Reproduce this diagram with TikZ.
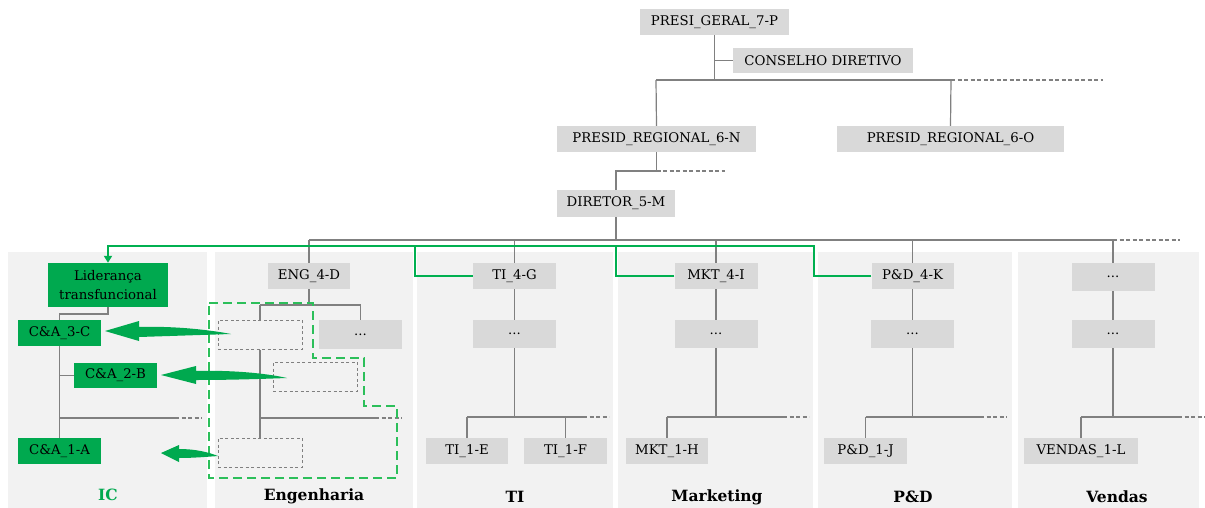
\documentclass[tikz,border=0pt]{standalone}
\usepackage{fontspec}
\setmainfont{DejaVu Serif}
\usetikzlibrary{arrows.meta,calc}
\definecolor{boxgray}{HTML}{D9D9D9}
\definecolor{panelgray}{HTML}{F2F2F2}
\definecolor{linegray}{HTML}{808080}
\definecolor{icgreen}{HTML}{00A94F}
\definecolor{linkgreen}{HTML}{00B050}
\definecolor{zonegreen}{HTML}{2CBF5A}
\begin{document}
\begin{tikzpicture}[x=1pt,y=-1pt,
  unit/.style={fill=boxgray, minimum width=83pt, minimum height=27pt,
    inner sep=0pt, font=\fontsize{13.3}{16}\selectfont},
  icunit/.style={unit, fill=icgreen},
  ghost/.style={draw=linegray, dash pattern=on 3pt off 2.5pt, line width=1pt,
    minimum width=84pt, minimum height=29pt, inner sep=0pt},
  panel/.style={fill=panelgray},
  wire/.style={draw=linegray, line width=1.2pt},
  more/.style={draw=linegray, line width=1.2pt, dash pattern=on 4pt off 2.5pt},
  link/.style={draw=linkgreen, line width=2pt},
  zone/.style={draw=zonegreen, line width=2.4pt, dash pattern=on 9pt off 5pt},
  fatarrow/.style={fill=icgreen},
  area/.style={font=\bfseries\fontsize{15.5}{18}\selectfont}
]
\useasboundingbox (0,0) rectangle (1205,508);

% department panels
\fill[panel] (8,252) rectangle (207,508);
\fill[panel] (215,252) rectangle (413,508);
\fill[panel] (417,252) rectangle (613,508);
\fill[panel] (618,252) rectangle (813,508);
\fill[panel] (818,252) rectangle (1012,508);
\fill[panel] (1018,252) rectangle (1199,508);

% top levels
\node[unit, minimum width=149pt, minimum height=26pt] (presi) at (714.5,22) {PRESI\_GERAL\_7-P};
\node[unit, minimum width=180pt, minimum height=25pt] (cons) at (823,60.5) {CONSELHO DIRETIVO};
\node[unit, minimum width=199pt, minimum height=26pt] (reg6n) at (656.5,139) {PRESID\_REGIONAL\_6-N};
\node[unit, minimum width=227pt, minimum height=26pt] (reg6o) at (950.5,139) {PRESID\_REGIONAL\_6-O};
\node[unit, minimum width=118pt] (dir) at (616,203.5) {DIRETOR\_5-M};

% IC
\node[icunit, minimum width=120pt, minimum height=44pt, align=center,
  font=\fontsize{13.3}{19}\selectfont] (lid) at (108,285) {Liderança\\transfuncional};
\node[icunit, minimum height=26pt] (ca3) at (59.5,333) {C\&A\_3-C};
\node[icunit, minimum height=25pt] (ca2) at (115.5,375.5) {C\&A\_2-B};
\node[icunit, minimum height=26pt] (ca1) at (59.5,451) {C\&A\_1-A};

% Engenharia
\node[unit, minimum width=82pt, minimum height=26pt] (eng) at (309,276) {ENG\_4-D};
\node[ghost] (gA) at (260,334.5) {};
\node[ghost] (gB) at (315,376.5) {};
\node[ghost] (gC) at (260,452.5) {};
\node[unit, minimum height=29pt] (engdots) at (360.5,334.5) {...};

% TI
\node[unit, minimum height=26pt] (ti4) at (514.5,276) {TI\_4-G};
\node[unit, minimum height=28pt] (tidots) at (514.5,334) {...};
\node[unit, minimum width=82pt, minimum height=26pt] (ti1e) at (467,451) {TI\_1-E};
\node[unit, minimum height=26pt] (ti1f) at (565.5,451) {TI\_1-F};

% Marketing
\node[unit, minimum height=26pt] (mkt4) at (716,276) {MKT\_4-I};
\node[unit, minimum height=28pt] (mktdots) at (716,334) {...};
\node[unit, minimum width=82pt, minimum height=26pt] (mkt1h) at (667,451) {MKT\_1-H};

% P&D
\node[unit, minimum width=82pt, minimum height=26pt] (pd4) at (912.5,276) {P\&D\_4-K};
\node[unit, minimum height=28pt] (pddots) at (912.5,334) {...};
\node[unit, minimum height=26pt] (pd1j) at (865.5,451) {P\&D\_1-J};

% Vendas
\node[unit, minimum height=28pt] (vdots1) at (1113,277) {...};
\node[unit, minimum height=28pt] (vdots2) at (1113,334) {...};
\node[unit, minimum width=114pt, minimum height=26pt] (vend1l) at (1081,451) {VENDAS\_1-L};

% reporting lines, top
\coordinate (bus1) at (656,80);
\coordinate (bus1r) at (951,80);
\draw[wire] (presi.south) -- (presi.south |- bus1);
\draw[wire] (presi.south |- cons.west) -- (cons.west);
\draw[wire] (bus1) -- (bus1r);
\draw[more] (bus1r) -- (1103,80);
\draw[wire] (bus1) -- (reg6n.north);
\draw[wire] (bus1r) -- (reg6o.north);
\coordinate (fork6) at (616,171);
\draw[wire] (reg6n.south) -- (reg6n.south |- fork6) -- (fork6) -- (dir.north);
\draw[more] (reg6n.south |- fork6) -- (725,171);

% director bus
\coordinate (bus2) at (309,240);
\coordinate (bus2r) at (1113,240);
\draw[wire] (dir.south) -- (dir.south |- bus2);
\draw[wire] (bus2) -- (bus2r);
\draw[more] (bus2r) -- (1180,240);
\draw[wire] (eng.north |- bus2) -- (eng.north);
\draw[wire] (ti4.north |- bus2) -- (ti4.north);
\draw[wire] (mkt4.north |- bus2) -- (mkt4.north);
\draw[wire] (pd4.north |- bus2) -- (pd4.north);
\draw[wire] (vdots1.north |- bus2) -- (vdots1.north);

% IC lines
\coordinate (icfork) at (59.5,314);
\draw[wire] (lid.south) -- (lid.south |- icfork) -- (icfork) -- (ca3.north);
\draw[wire] (ca3.south) -- (ca1.north);
\draw[wire] (ca3.south |- ca2.west) -- (ca2.west);
\draw[wire] (59.5,418) -- (175,418);
\draw[more] (175,418) -- (202,418);

% Engenharia lines
\coordinate (engfork) at (309,305);
\draw[wire] (eng.south) -- (engfork);
\draw[wire] (gA.north |- engfork) -- (engdots.north |- engfork);
\draw[wire] (gA.north |- engfork) -- (gA.north);
\draw[wire] (engdots.north |- engfork) -- (engdots.north);
\draw[wire] (gA.south) -- (gC.north);
\draw[wire] (260,418) -- (375,418);
\draw[more] (375,418) -- (402,418);

% TI lines
\draw[wire] (ti4.south) -- (tidots.north);
\draw[wire] (tidots.south) -- (514.5,417);
\draw[wire] (ti1e.north |- 0,417) -- (583,417);
\draw[more] (583,417) -- (609,417);
\draw[wire] (ti1e.north |- 0,417) -- (ti1e.north);
\draw[wire] (ti1f.north |- 0,417) -- (ti1f.north);

% Marketing lines
\draw[wire] (mkt4.south) -- (mktdots.north);
\draw[wire] (mktdots.south) -- (716,417);
\draw[wire] (mkt1h.north |- 0,417) -- (783,417);
\draw[more] (783,417) -- (809,417);
\draw[wire] (mkt1h.north |- 0,417) -- (mkt1h.north);

% P&D lines
\draw[wire] (pd4.south) -- (pddots.north);
\draw[wire] (pddots.south) -- (912.5,417);
\draw[wire] (pd1j.north |- 0,417) -- (980,417);
\draw[more] (980,417) -- (1007,417);
\draw[wire] (pd1j.north |- 0,417) -- (pd1j.north);

% Vendas lines
\draw[wire] (vdots1.south) -- (vdots2.north);
\draw[wire] (vdots2.south) -- (1113,417);
\draw[wire] (vend1l.north |- 0,417) -- (1178,417);
\draw[more] (1178,417) -- (1205,417);
\draw[wire] (vend1l.north |- 0,417) -- (vend1l.north);

% cross-functional links
\coordinate (gbus) at (814,246);
\draw[link, -{Triangle[length=7pt,width=8pt]}] (pd4.west) -| (gbus) -| (lid.north);
\draw[link] (ti4.west) -| (415,246);
\draw[link] (mkt4.west) -| (616,246);

% reassigned positions
\draw[zone] (209,303) -- (313,303) -- (313,358) -- (364,358) -- (364,406)
  -- (397,406) -- (397,478) -- (209,478) -- cycle;

\fill[fatarrow] (105,331) -- (139,321) -- (139,327)
  .. controls (170,326) and (205,329) .. (231,334)
  .. controls (200,335) and (170,336) .. (139,337) -- (139,341) -- cycle;
\fill[fatarrow] (161,375) -- (196,366) -- (196,371)
  .. controls (230,370) and (265,373) .. (287,378)
  .. controls (260,379) and (230,380) .. (196,380) -- (196,384) -- cycle;
\fill[fatarrow] (161,453) -- (179,445) -- (179,449)
  .. controls (195,449) and (208,452) .. (218,456)
  .. controls (205,457) and (192,458) .. (179,458) -- (179,462) -- cycle;

% department names
\node[area, text=icgreen] at (108,495) {IC};
\node[area] at (314,496) {Engenharia};
\node[area] at (515,497) {TI};
\node[area] at (717,497) {Marketing};
\node[area] at (913,497) {P\&D};
\node[area] at (1117,497) {Vendas};
\end{tikzpicture}
\end{document}
